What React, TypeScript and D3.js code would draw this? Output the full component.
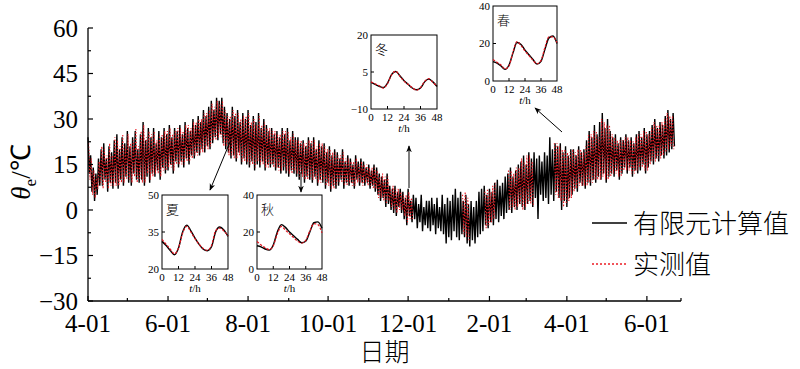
import * as d3 from "d3";

// main series: one turning point per day from 2018-04-01 (highs / lows alternate)
const START = new Date(2018, 3, 1);
const END = new Date(2018, 3, 1 + 452);

const computed = [
  24, 12, 18, 6, 14, 3, 12, 5, 17, 8,
  20, 8, 22, 10, 17, 6, 21, 9, 19, 7,
  23, 9, 25, 7, 20, 10, 24, 8, 22, 11,
  26, 9, 21, 8, 24, 12, 26, 10, 20, 9,
  25, 10, 29, 8, 23, 11, 27, 9, 24, 12,
  27, 11, 22, 13, 26, 10, 24, 14, 27, 12,
  25, 13, 28, 15, 24, 12, 27, 16, 26, 14,
  28, 16, 25, 14, 29, 17, 27, 15, 26, 18,
  30, 17, 28, 19, 31, 18, 29, 20, 33, 19,
  31, 21, 34, 20, 36, 22, 33, 24, 37, 23,
  36, 25, 37, 22, 34, 20, 32, 19, 30, 17,
  34, 18, 31, 16, 33, 19, 29, 15, 32, 17,
  30, 15, 33, 14, 28, 16, 31, 13, 29, 15,
  32, 14, 27, 16, 30, 13, 28, 15, 26, 14,
  27, 15, 25, 13, 26, 14, 24, 12, 27, 13,
  25, 12, 27, 11, 23, 13, 26, 12, 24, 11,
  24, 10, 22, 12, 23, 9, 21, 11, 24, 10,
  22, 9, 24, 11, 20, 8, 23, 10, 21, 9,
  22, 7, 19, 9, 21, 6, 18, 8, 20, 7,
  19, 8, 17, 10, 20, 7, 16, 9, 18, 8,
  17, 9, 15, 7, 18, 10, 16, 8, 17, 9,
  16, 8, 14, 9, 15, 7, 13, 8, 15, 6,
  14, 5, 12, 3, 11, 4, 10, 1, 12, 2,
  8, 0, 7, -1, 8, -2, 6, 1, 7, -1,
  6, -3, 4, -5, 7, -2, 3, -4, 5, -3,
  4, -6, 2, -4, 5, -7, 1, -5, 3, -6,
  3, -7, 4, -5, 2, -8, 4, -6, 1, -7,
  5, -8, 2, -11, 4, -9, 3, -10, 5, -7,
  7, -9, 4, -10, 6, -8, 3, -9, 5, -11,
  2, -12, 3, -10, 1, -11, 3, -9, 6, -8,
  7, -7, 8, -5, 5, -6, 7, -4, 6, -5,
  9, -3, 10, -4, 8, -2, 9, -3, 11, -1,
  12, 0, 14, -1, 11, 1, 13, 0, 15, 2,
  16, 1, 18, 0, 15, 2, 19, 3, 17, 1,
  19, 4, 17, -3, 18, 5, 16, 3, 19, 4,
  18, 2, 24, 5, 20, 3, 22, 6, 21, 4,
  22, 0, 19, 3, 21, 1, 18, 4, 20, 5,
  20, 7, 18, 6, 21, 9, 19, 8, 20, 7,
  23, 9, 26, 8, 24, 10, 28, 9, 25, 11,
  29, 10, 32, 12, 27, 9, 30, 11, 26, 12,
  24, 11, 25, 13, 22, 10, 24, 12, 23, 14,
  25, 12, 23, 14, 24, 11, 22, 13, 25, 12,
  26, 13, 24, 15, 27, 12, 25, 14, 26, 16,
  28, 15, 30, 17, 27, 16, 29, 18, 28, 17,
  31, 18, 33, 19, 30, 20, 32, 21,
];

// measured: sampled half a day after the computed points, with gaps in winter
const measuredAprDec = [
  22, 10, 17, 5, 13, 4, 11, 7, 16, 9,
  21, 7, 20, 9, 18, 7, 22, 8, 18, 8,
  24, 8, 23, 8, 21, 9, 25, 9, 21, 10,
  25, 10, 22, 9, 23, 11, 27, 9, 21, 10,
  26, 9, 28, 9, 24, 12, 26, 10, 25, 11,
  26, 12, 23, 12, 25, 11, 25, 13, 26, 13,
  26, 14, 27, 14, 25, 13, 26, 15, 27, 15,
  27, 15, 26, 15, 28, 16, 28, 16, 27, 17,
  29, 18, 29, 18, 30, 19, 30, 19, 32, 20,
  32, 20, 33, 21, 35, 23, 34, 23, 36, 24,
  35, 24, 36, 21, 33, 21, 31, 18, 31, 18,
  33, 17, 32, 17, 32, 18, 30, 16, 31, 16,
  31, 16, 32, 15, 29, 15, 30, 14, 28, 16,
  31, 15, 28, 15, 29, 14, 27, 14, 27, 15,
  26, 14, 26, 14, 25, 13, 25, 13, 26, 14,
  26, 13, 26, 12, 24, 12, 25, 13, 23, 12,
  23, 11, 23, 11, 22, 10, 22, 10, 23, 11,
  23, 10, 23, 10, 21, 9, 22, 9, 22, 10,
  21, 8, 20, 8, 20, 7, 19, 7, 19, 8,
  18, 9, 18, 9, 19, 8, 17, 8, 17, 9,
  16, 8, 16, 8, 17, 9, 15, 9, 16, 8,
  15, 9, 15, 8, 14, 8, 14, 7, 14, 7,
  13, 4, 11, 4, 12, 3, 11, 2, 11, 3,
  7, 1, 8, 0, 7, -1, 7, 0, 6, 0,
  5, -2, 5, -4, 6, -3, 4, -3,
];
const measuredJan = [5, -8, 6, -9, 4, -10];
const measuredFeb = [6, -6, 7, -5, 6, -4, 8, -3, 9];
const measuredMar = [13, 0, 13, 1, 12, 0, 14, 1, 14, 2, 17, 0, 16, 1, 18, 2, 18, 2, 16, 1];
const measuredAprJun = [
  22, 5, 22, 4, 21,
  3, 20, 1, 20, 2, 19, 3, 19, 4, 20,
  6, 19, 7, 20, 8, 20, 8, 19, 8, 21,
  8, 25, 9, 25, 9, 26, 10, 26, 10, 24,
  10, 30, 11, 29, 10, 28, 10, 28, 11, 25,
  12, 24, 12, 23, 11, 23, 11, 23, 13, 24,
  13, 24, 13, 23, 12, 23, 12, 24, 13, 25,
  14, 25, 14, 26, 13, 26, 13, 25, 15, 27,
  16, 29, 16, 28, 17, 28, 17, 29, 18, 30,
  19, 32, 20, 31, 21, 31, 20,
];
const measuredStartDays = [0.5, 285.5, 302.5, 320.5, 355.5];
const measuredParts = [measuredAprDec, measuredJan, measuredFeb, measuredMar, measuredAprJun];

const yTicks = [-30, -15, 0, 15, 30, 45, 60];

// insets: 48 h at 3 h steps
const hours = [0, 3, 6, 9, 12, 15, 18, 21, 24, 27, 30, 33, 36, 39, 42, 45, 48];
const summerCalc = [31.2, 29.5, 27.5, 25.8, 28.5, 35, 37.8, 35.5, 32.5, 30, 28, 27.4, 29, 35, 37, 35.8, 33.2];
const summerMeas = [32, 30, 28, 26.2, 28.5, 34.5, 37.3, 35, 32.3, 30, 28.3, 27.6, 29.5, 35.5, 36.6, 35.4, 33.5];
const autumnCalc = [12.6, 12, 10.8, 10.2, 13, 20, 24, 22.5, 20, 18, 16, 14.2, 15, 20, 25, 25.5, 22];
const autumnMeas = [14.9, 13, 11.5, 10.5, 12.5, 19, 23, 21, 19, 17, 15, 14, 15.5, 20.5, 24.5, 24, 19.5];
const winterCalc = [0.8, 0, -0.8, -1.3, 0.5, 4, 5.2, 3.5, 1.5, 0, -1.5, -2.2, -1.5, 1, 2.1, 1, -0.9];
const winterMeas = [1, 0.2, -0.6, -1.5, 0.3, 3.8, 5.3, 3.3, 1.3, 0, -1.3, -2.4, -1.3, 1.2, 2.3, 0.8, -0.7];
const springCalc = [10.3, 9.5, 8, 6.2, 8.5, 15, 20.5, 19.5, 16.5, 14, 11.5, 9, 10.5, 17, 23, 24, 20];
const springMeas = [11.5, 10, 8.5, 6.5, 8, 15.5, 21, 19, 16, 13.5, 11, 9.2, 11, 18, 23.5, 23.5, 20.5];

const SERIF = "'Liberation Serif', 'Times New Roman', serif";
const CJK = "'Noto Sans CJK SC', sans-serif";

const ML = 88, MR = 681, MT = 28, MB = 301;
const x = d3.scaleTime().domain([START, END]).range([ML, MR]);
const y = d3.scaleLinear().domain([-30, 60]).range([MB, MT]);
const dayDate = (d: number) => new Date(START.getTime() + d * 864e5);

interface InsetProps {
  label: string; left: number; top: number; w: number; h: number;
  dom: [number, number]; calc: number[]; meas: number[];
}

function Inset({ label, left, top, w, h, dom, calc, meas }: InsetProps) {
  const ix = d3.scaleLinear().domain([0, 48]).range([left, left + w]);
  const iy = d3.scaleLinear().domain(dom).range([top + h, top]);
  const line = d3.line<number>().x((_, i) => ix(hours[i])).y((v) => iy(v)).curve(d3.curveMonotoneX);
  const mid = (dom[0] + dom[1]) / 2;
  return (
    <g>
      <rect x={left} y={top} width={w} height={h} fill="#fff" stroke="#000" strokeWidth={1} />
      <path d={line(calc) ?? ""} fill="none" stroke="#000" strokeWidth={1.4} />
      <path d={line(meas) ?? ""} fill="none" stroke="#e0141e" strokeWidth={1.2} strokeDasharray="2.5,1.5" />
      {[12, 24, 36].map((t) => (
        <line key={t} x1={ix(t)} x2={ix(t)} y1={top + h} y2={top + h - 3} stroke="#000" />
      ))}
      <line x1={left} x2={left + 3} y1={iy(mid)} y2={iy(mid)} stroke="#000" />
      {[dom[0], mid, dom[1]].map((v) => (
        <text key={v} x={left - 3} y={iy(v)} dy="0.35em" textAnchor="end"
              fontFamily={SERIF} fontSize={11}>{v < 0 ? `\u2212${-v}` : v}</text>
      ))}
      {[0, 12, 24, 36, 48].map((t) => (
        <text key={t} x={ix(t)} y={top + h + 12} textAnchor="middle"
              fontFamily={SERIF} fontSize={11}>{t}</text>
      ))}
      <text x={left + w / 2} y={top + h + 23} textAnchor="middle" fontFamily={SERIF} fontSize={11}>
        <tspan fontStyle="italic">t</tspan>/h
      </text>
      <text x={left + 4} y={top + 19} fontFamily={CJK} fontSize={13} fontWeight={300}>{label}</text>
    </g>
  );
}

export default function App() {
  const lineMain = d3.line<number>().x((_, i) => x(dayDate(i))).y((v) => y(v));
  const measPaths = measuredParts.map((arr, k) =>
    d3.line<number>().x((_, i) => x(dayDate(measuredStartDays[k] + i))).y((v) => y(v))(arr) ?? "");
  const months = d3.timeMonth.range(START, END);
  const yMinor = d3.range(-30, 60.1, 7.5);

  return (
    <svg width={800} height={369} style={{ position: "absolute", left: 0, top: 0, background: "#fff" }}>
      <defs>
        <marker id="ah" viewBox="0 0 10 10" refX="9" refY="5" markerWidth="7" markerHeight="7" orient="auto">
          <path d="M0,1 L10,5 L0,9 L3,5 Z" fill="#000" />
        </marker>
      </defs>

      {/* series */}
      <path d={lineMain(computed) ?? ""} fill="none" stroke="#000" strokeWidth={1.4} />
      {measPaths.map((d, i) => (
        <path key={i} d={d} fill="none" stroke="#ec1c24" strokeWidth={1.1} strokeDasharray="1.3,1.9" />
      ))}

      {/* axes */}
      <line x1={ML} x2={ML} y1={MT} y2={MB} stroke="#000" strokeWidth={1.3} />
      <line x1={ML} x2={MR} y1={MB} y2={MB} stroke="#000" strokeWidth={1.3} />
      {yMinor.map((v) => (
        <line key={v} x1={ML} x2={ML + (v % 15 === 0 ? 5 : 3)} y1={y(v)} y2={y(v)} stroke="#000" strokeWidth={1.2} />
      ))}
      {yTicks.map((v) => (
        <text key={v} x={78} y={y(v)} dy="0.35em" textAnchor="end" fontFamily={SERIF} fontSize={25}>
          {v < 0 ? `\u2212${-v}` : v}
        </text>
      ))}
      {months.map((m) => {
        const major = (m.getMonth() + 1) % 2 === 0;
        return (
          <g key={+m}>
            <line x1={x(m)} x2={x(m)} y1={MB} y2={MB - (major ? 5 : 3)} stroke="#000" strokeWidth={1.2} />
            {major && (
              <text x={x(m)} y={MB + 31} textAnchor="middle" fontFamily={SERIF} fontSize={25}>
                {`${m.getMonth() + 1}-01`}
              </text>
            )}
          </g>
        );
      })}
      <line x1={MR} x2={MR} y1={MB} y2={MB - 3} stroke="#000" strokeWidth={1.2} />
      <text x={(ML + MR) / 2} y={361} textAnchor="middle" fontFamily={CJK} fontSize={25} fontWeight={300}>日期</text>
      <text transform="translate(30,172) rotate(-90)" textAnchor="middle" fontFamily={SERIF} fontSize={27}>
        <tspan fontStyle="italic">θ</tspan>
        <tspan fontSize={17} dy={6}>e</tspan>
        <tspan dy={-6}>/℃</tspan>
      </text>

      {/* insets */}
      <Inset label="夏" left={162} top={195} w={66} h={74} dom={[20, 50]} calc={summerCalc} meas={summerMeas} />
      <Inset label="秋" left={257} top={195} w={65} h={74} dom={[0, 40]} calc={autumnCalc} meas={autumnMeas} />
      <Inset label="冬" left={371} top={35} w={66} h={74} dom={[-10, 20]} calc={winterCalc} meas={winterMeas} />
      <Inset label="春" left={493} top={6} w={64} h={75} dom={[0, 40]} calc={springCalc} meas={springMeas} />

      {/* arrows */}
      <line x1={230} y1={142} x2={210} y2={190} stroke="#000" strokeWidth={1} markerEnd="url(#ah)" />
      <line x1={301} y1={172} x2={301} y2={192} stroke="#000" strokeWidth={1} markerEnd="url(#ah)" />
      <line x1={409} y1={188} x2={409} y2={146} stroke="#000" strokeWidth={1} markerEnd="url(#ah)" />
      <line x1={562} y1={132} x2={535} y2={108} stroke="#000" strokeWidth={1} markerEnd="url(#ah)" />

      {/* legend */}
      <line x1={592} x2={627} y1={223} y2={223} stroke="#000" strokeWidth={1.6} />
      <text x={633} y={233} fontFamily={CJK} fontSize={26} fontWeight={300}>有限元计算值</text>
      <line x1={592} x2={627} y1={264} y2={264} stroke="#ec1c24" strokeWidth={1.6} strokeDasharray="2,2" />
      <text x={633} y={274} fontFamily={CJK} fontSize={26} fontWeight={300}>实测值</text>
    </svg>
  );
}
